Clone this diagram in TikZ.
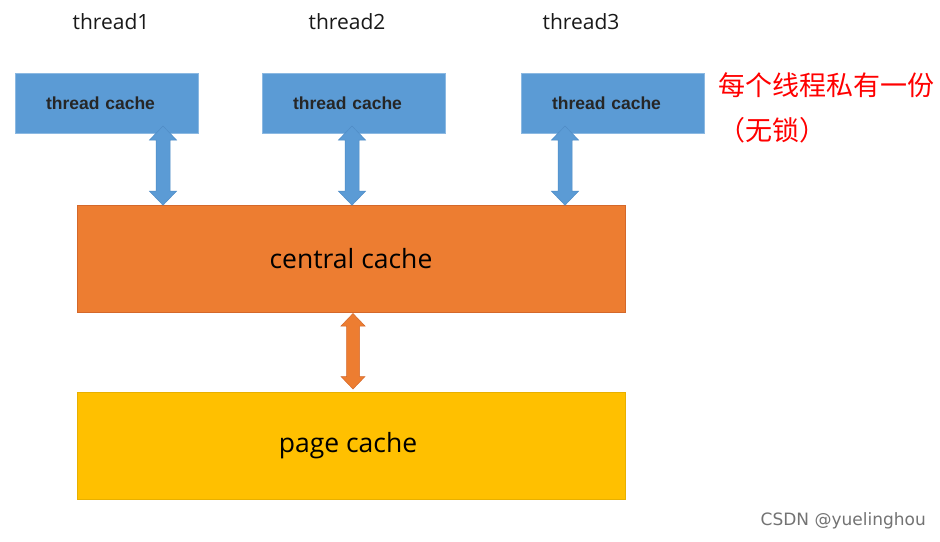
\documentclass[tikz,border=0pt]{standalone}
\usepackage{fontspec}
\newfontfamily\cjk{Noto Sans CJK SC}
\newfontfamily\arialf{Liberation Sans}
\newfontfamily\opens{Open Sans}
\newfontfamily\dejav{DejaVu Sans}
\usetikzlibrary{calc}
\definecolor{tblue}{HTML}{5B9BD5}
\definecolor{tblueb}{HTML}{4F8CC6}
\definecolor{corange}{HTML}{ED7D31}
\definecolor{coranged}{HTML}{D4682A}
\definecolor{pyellow}{HTML}{FFC000}
\definecolor{pyellowd}{HTML}{E8B000}
\definecolor{cred}{HTML}{FF0000}
\tikzset{
  tbox/.style={draw=tblue!70!white, line width=0.6pt, fill=tblue, minimum width=183pt, minimum height=60pt, inner sep=0pt, text width=183pt, align=center, font=\arialf\bfseries\fontsize{17.5}{19}\selectfont, text=black!85},
  bigbox/.style={line width=0.6pt, minimum width=548pt, minimum height=107pt, inner sep=0pt, font=\opens\fontsize{26.5}{30}\selectfont, text=black},
  tlabel/.style={font=\opens\fontsize{21}{23}\selectfont, text=black!90},
  note/.style={font=\cjk\fontsize{27}{31}\selectfont, text=cred, anchor=west, inner sep=0pt},
}
% fat double arrow between two coordinates (vertical), #3 fill, #4 draw, #5 half head, #6 half shaft, #7 head length
\newcommand{\fatarrow}[7]{%
  \filldraw[fill=#3, draw=#4, line width=0.5pt, line join=miter]
    (#1) -- ($(#1)+(#5,#7)$) -- ($(#1)+(#6,#7)$) -- ($(#2)+(#6,-#7)$) -- ($(#2)+(#5,-#7)$)
    -- (#2) -- ($(#2)+(-#5,-#7)$) -- ($(#2)+(-#6,-#7)$) -- ($(#1)+(-#6,#7)$) -- ($(#1)+(-#5,#7)$) -- cycle;}
\begin{document}
\begin{tikzpicture}[x=1pt,y=-1pt]
\useasboundingbox[fill=white] (0,0) rectangle (940,541);
% thread labels
\node[tlabel] (l1) at (111,22) {thread1};
\node[tlabel] (l2) at (347,22) {thread2};
\node[tlabel] (l3) at (581,22) {thread3};
% thread cache boxes
\node[tbox] (t1) at (106.5,103) {\hspace*{-12pt}thread cache};
\node[tbox] (t2) at (353.5,103) {\hspace*{-12pt}thread cache};
\node[tbox] (t3) at (612.5,103) {\hspace*{-12pt}thread cache};
% central and page cache
\node[bigbox, fill=corange, draw=coranged] (central) at (351,259) {central cache};
\node[bigbox, fill=pyellow, draw=pyellowd] (page) at (351,445.5) {\hspace*{-6pt}page cache};
% arrow endpoints
\coordinate (a1t) at (163,126);
\coordinate (a2t) at (352,126);
\coordinate (a3t) at (565,126);
\coordinate (a1b) at (a1t |- central.north);
\coordinate (a2b) at (a2t |- central.north);
\coordinate (a3b) at (a3t |- central.north);
\coordinate (a4t) at (353,313.5);
\coordinate (a4b) at (353,389);
\fatarrow{a1t}{a1b}{tblue}{tblueb}{13.5}{7}{14}
\fatarrow{a2t}{a2b}{tblue}{tblueb}{13.5}{7}{14}
\fatarrow{a3t}{a3b}{tblue}{tblueb}{13.5}{7}{14}
\fatarrow{a4t}{a4b}{corange}{coranged}{12}{6.5}{12.5}
% note
\node[note] (n1) at (718,85) {每个线程私有一份};
\node[note] (n2) at (718,130) {（无锁）};
% watermark
\node[font=\dejav\fontsize{17}{19}\selectfont, text=black!55, anchor=east, inner sep=0pt] (wm) at (926,521) {CSDN @yuelinghou};
\end{tikzpicture}
\end{document}
